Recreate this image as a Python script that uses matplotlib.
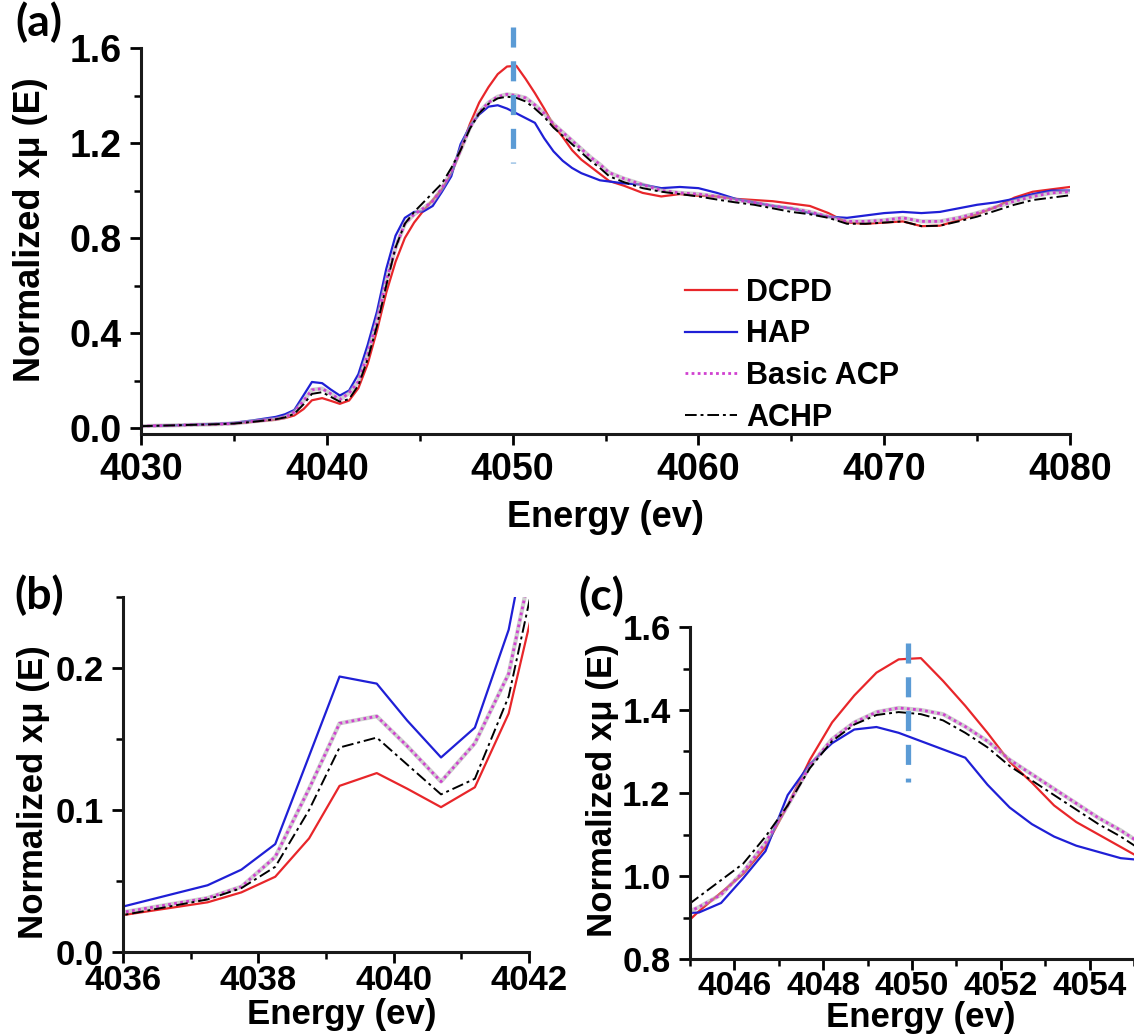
import matplotlib
matplotlib.use("Agg")
import matplotlib.pyplot as plt
from matplotlib.ticker import MultipleLocator
import matplotlib.transforms as mtransforms

plt.rcParams['font.family'] = ['Liberation Sans', 'DejaVu Sans']
plt.rcParams['font.weight'] = 'bold'

# energy grid (eV)
energy = [4030, 4032, 4034, 4035, 4036, 4037.25, 4037.75, 4038.25, 4038.75, 4039.2,
          4039.75, 4040.2, 4040.7, 4041.2, 4041.7, 4042.2, 4042.7, 4043.2, 4043.7, 4044.2,
          4044.7, 4045.2, 4045.7, 4046.2, 4046.7, 4047.2, 4047.7, 4048.2, 4048.7, 4049.2,
          4049.7, 4050.2, 4050.7, 4051.2, 4051.7, 4052.2, 4052.7, 4053.2, 4053.7, 4054.2,
          4054.7, 4055.2, 4056, 4057, 4058, 4059, 4060, 4061, 4062, 4063,
          4064, 4065, 4066, 4067, 4068, 4069, 4070, 4071, 4072, 4073,
          4074, 4075, 4076, 4077, 4078, 4079, 4080]

dcpd = [0.008, 0.012, 0.016, 0.019, 0.026, 0.035, 0.042, 0.053, 0.080, 0.117,
        0.126, 0.115, 0.102, 0.116, 0.168, 0.27, 0.41, 0.57, 0.70, 0.80,
        0.865, 0.915, 0.96, 1.005, 1.07, 1.17, 1.28, 1.37, 1.435, 1.49,
        1.522, 1.525, 1.47, 1.41, 1.345, 1.275, 1.225, 1.17, 1.13, 1.10,
        1.07, 1.04, 1.02, 0.99, 0.975, 0.985, 0.978, 0.975, 0.965, 0.96,
        0.955, 0.945, 0.935, 0.905, 0.865, 0.86, 0.865, 0.87, 0.85, 0.852,
        0.875, 0.90, 0.93, 0.97, 0.995, 1.005, 1.015]

hap = [0.008, 0.012, 0.018, 0.022, 0.032, 0.047, 0.058, 0.076, 0.138, 0.194,
       0.189, 0.163, 0.137, 0.158, 0.227, 0.35, 0.49, 0.67, 0.81, 0.885,
       0.91, 0.912, 0.935, 0.995, 1.06, 1.195, 1.27, 1.32, 1.353, 1.359,
       1.345, 1.325, 1.305, 1.285, 1.22, 1.165, 1.125, 1.095, 1.073, 1.058,
       1.043, 1.038, 1.03, 1.025, 1.01, 1.015, 1.01, 0.99, 0.965, 0.95,
       0.935, 0.925, 0.905, 0.89, 0.885, 0.895, 0.905, 0.91, 0.905, 0.91,
       0.925, 0.94, 0.95, 0.965, 0.985, 1.0, 1.0]

basic_acp = [0.008, 0.012, 0.016, 0.019, 0.028, 0.038, 0.046, 0.067, 0.115, 0.161,
             0.166, 0.145, 0.120, 0.147, 0.196, 0.31, 0.45, 0.62, 0.76, 0.86,
             0.90, 0.925, 0.955, 1.01, 1.08, 1.17, 1.265, 1.33, 1.37, 1.395,
             1.405, 1.40, 1.39, 1.36, 1.325, 1.28, 1.245, 1.21, 1.175, 1.14,
             1.11, 1.075, 1.05, 1.025, 1.0, 0.99, 0.985, 0.975, 0.96, 0.95,
             0.935, 0.925, 0.91, 0.89, 0.87, 0.87, 0.875, 0.885, 0.87, 0.87,
             0.885, 0.905, 0.93, 0.955, 0.975, 0.99, 0.995]

achp = [0.008, 0.012, 0.016, 0.019, 0.026, 0.037, 0.045, 0.060, 0.10, 0.144,
        0.151, 0.132, 0.111, 0.122, 0.18, 0.29, 0.43, 0.60, 0.76, 0.86,
        0.91, 0.95, 0.99, 1.03, 1.095, 1.17, 1.26, 1.325, 1.365, 1.388,
        1.395, 1.39, 1.375, 1.345, 1.31, 1.265, 1.23, 1.195, 1.16, 1.125,
        1.095, 1.06, 1.035, 1.01, 0.995, 0.985, 0.975, 0.962, 0.95, 0.94,
        0.925, 0.91, 0.90, 0.885, 0.86, 0.86, 0.865, 0.87, 0.85, 0.852,
        0.87, 0.89, 0.915, 0.94, 0.96, 0.97, 0.98]

labels = ['DCPD', 'HAP', 'Basic ACP', 'ACHP']
peak_energy = 4050

W, H = 1134, 1035
fig = plt.figure(figsize=(W / 100, H / 100), dpi=100)


def px_axes(left, top, right, bottom):
    return fig.add_axes([left / W, 1 - bottom / H, (right - left) / W, (bottom - top) / H])


def draw_curves(ax):
    ax.plot(energy, dcpd, color='#e8262a', lw=1.6, label=labels[0])
    ax.plot(energy, hap, color='#1f1fd6', lw=1.6, label=labels[1])
    ax.plot(energy, basic_acp, color='#b0b0b0', lw=3.0, alpha=0.6)
    ax.plot(energy, basic_acp, color='#d040d0', lw=2.0, ls=(0, (1, 1.2)), label=labels[2])
    ax.plot(energy, achp, color='black', lw=1.4, ls=(0, (6, 2, 1.5, 2)), label=labels[3])


def style(ax, xmaj, xmin, ymaj, ymin, size, xpad):
    for s in ['top', 'right']:
        ax.spines[s].set_visible(False)
    for s in ['left', 'bottom']:
        ax.spines[s].set_linewidth(2.2)
        ax.spines[s].set_color('#1a1a1a')
    ax.xaxis.set_major_locator(MultipleLocator(xmaj))
    ax.xaxis.set_minor_locator(MultipleLocator(xmin))
    ax.yaxis.set_major_locator(MultipleLocator(ymaj))
    ax.yaxis.set_minor_locator(MultipleLocator(ymin))
    ax.yaxis.set_major_formatter(plt.FormatStrFormatter('%.1f'))
    ax.tick_params(which='major', direction='out', length=8, width=2, labelsize=size)
    ax.tick_params(axis='y', which='major', pad=6)
    ax.tick_params(axis='x', which='major', pad=xpad)
    ax.tick_params(which='minor', direction='out', length=5, width=1.8)


def vdash(ax, x, y0, y1):
    trans = mtransforms.blended_transform_factory(ax.transData, ax.transAxes)
    ax.plot([x, x], [y1, y0], transform=trans, color='#5b9bd5', lw=3.8,
            ls=(0, (3.8, 2.6)), clip_on=False, zorder=5)


def set_labels(ax, size, xcoords, ycoords):
    ax.set_xlabel('Energy (ev)', fontsize=size, fontweight='bold')
    ax.set_ylabel('Normalized xμ (E)', fontsize=size, fontweight='bold')
    ax.xaxis.set_label_coords(*xcoords)
    ax.yaxis.set_label_coords(*ycoords)


# ---- panel (a)
ax1 = px_axes(141, 48, 1070, 434)
draw_curves(ax1)
ax1.set_xlim(4030, 4080)
ax1.set_ylim(-0.025, 1.6)
style(ax1, 10, 5, 0.4, 0.2, 27, 5)
vdash(ax1, peak_energy, 0.702, 1.054)
set_labels(ax1, 26, (0.5, -0.17), (-0.100, 0.53))
ax1.legend(loc='upper left', bbox_to_anchor=(0.5856, 0.405), frameon=False,
           prop={'size': 22, 'weight': 'bold'}, handlelength=1.7, handletextpad=0.3,
           labelspacing=0.38, borderpad=0, borderaxespad=0)

# ---- panel (b)
ax2 = px_axes(123, 597, 529, 952)
draw_curves(ax2)
ax2.set_xlim(4036, 4042)
ax2.set_ylim(0, 0.25)
style(ax2, 2, 1, 0.1, 0.05, 25, 0.5)
set_labels(ax2, 25, (0.54, -0.13), (-0.18, 0.45))

# ---- panel (c)
ax3 = px_axes(690, 627, 1134, 959)
draw_curves(ax3)
ax3.set_xlim(4045, 4055)
ax3.set_ylim(0.8, 1.6)
style(ax3, 2, 1, 0.2, 0.1, 25, 0.5)
ax3.tick_params(axis='x', which='major', labelsize=24)
vdash(ax3, 4049.9, 0.533, 0.951)
set_labels(ax3, 25, (0.52, -0.125), (-0.16, 0.51))

# panel letters
for txt, x, y in [('(a)', 39, 22), ('(b)', 39, 595), ('(c)', 601, 596)]:
    fig.text(x / W, 1 - y / H, txt, fontsize=32, fontweight='bold', family='Lato',
             ha='center', va='center')

fig.savefig('out.png', dpi=100)
